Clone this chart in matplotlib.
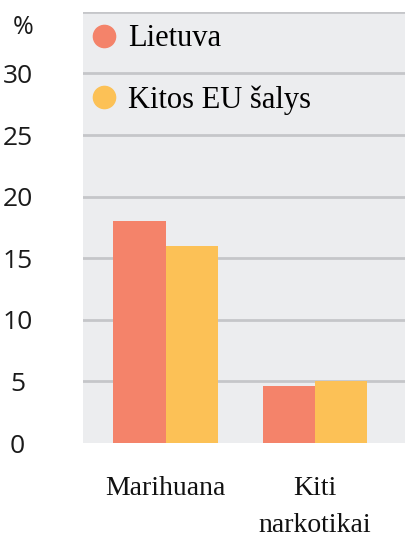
import numpy as np
import matplotlib
matplotlib.use("Agg")
import matplotlib.pyplot as plt
from matplotlib.lines import Line2D

# Dados
categorias = ["Marihuana", "Kiti\nnarkotikai"]
serie_nomes = ["Lietuva", "Kitos EU šalys"]
lietuva = [18.0, 4.6]
kitos_eu = [16.0, 5.0]
yticks = [0, 5, 10, 15, 20, 25, 30]

CORES = ["#F4836A", "#FCC156"]
FUNDO = "#ECEDEF"
GRADE = "#C5C6C9"
SERIF = ["Liberation Serif", "DejaVu Serif"]
SANS = ["Open Sans", "DejaVu Sans"]

fig = plt.figure(figsize=(4.06, 5.37), dpi=100)
ax = fig.add_axes([0.204, 0.175, 0.80, 0.803])
ax.set_facecolor(FUNDO)

x = np.arange(len(categorias))
w = 0.35
ax.bar(x - w / 2, lietuva, w, color=CORES[0], zorder=3)
ax.bar(x + w / 2, kitos_eu, w, color=CORES[1], zorder=3)

ax.set_ylim(0, 35)
ax.set_xlim(-0.555, 1.62)
for gy in [5, 10, 15, 20, 25, 30, 35]:
    ax.axhline(gy, color=GRADE, linewidth=2, zorder=1)

ax.set_yticks(yticks)
ax.set_yticklabels([str(t) for t in yticks], fontsize=19, family=SANS, color="#1a1a1a")
ax.tick_params(axis="y", length=0, pad=47)
for lab in ax.get_yticklabels():
    lab.set_horizontalalignment("center")
ax.set_xticks(x)
ax.set_xticklabels(categorias, fontsize=20, family=SERIF, color="#111111",
                   linespacing=1.6, va="top")
ax.tick_params(axis="x", length=0, pad=24)
for s in ax.spines.values():
    s.set_visible(False)

fig.text(0.056, 0.948, "%", fontsize=18, family=SANS, color="#1a1a1a",
         ha="center", va="center")

handles = [Line2D([], [], linestyle="none", marker="o", markersize=16,
                  markerfacecolor=c, markeredgecolor=c) for c in CORES]
ax.legend(handles, serie_nomes, loc="upper left", bbox_to_anchor=(-0.077, 1.035),
          frameon=False, prop={"family": SERIF, "size": 22},
          handletextpad=0.2, labelspacing=1.05, handlelength=1.2)

fig.savefig("out.png", dpi=100)
